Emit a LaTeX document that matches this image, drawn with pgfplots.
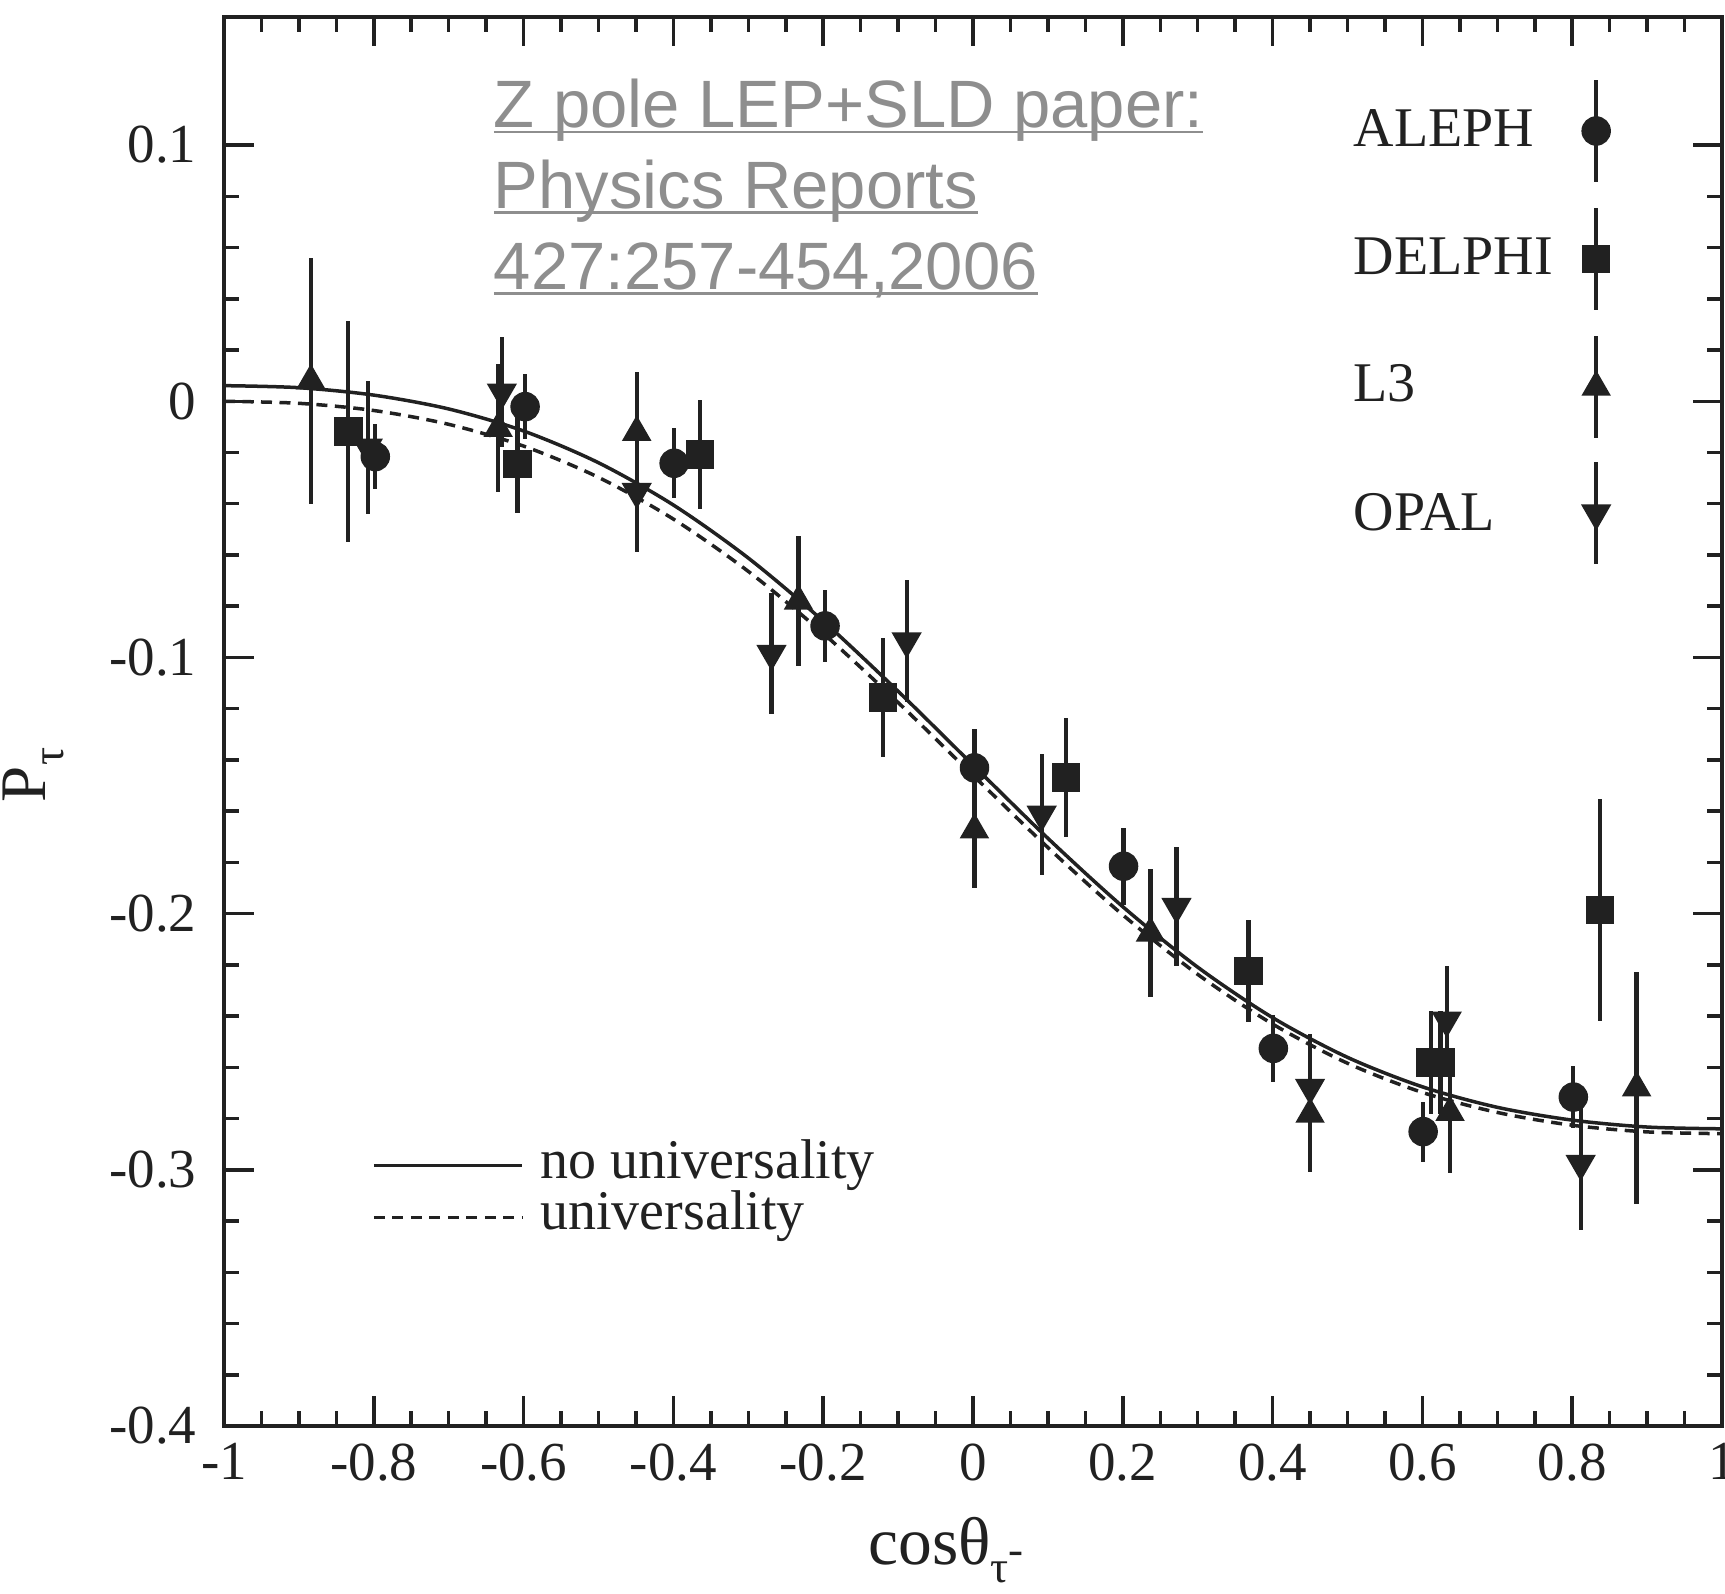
\documentclass[border=0pt]{standalone}
\usepackage{fontspec}
\setmainfont{Liberation Serif}
\newfontfamily\annfont{Liberation Sans}
\usepackage{pgfplots}
\usepackage{pgfplotstable}
\pgfplotsset{compat=1.18}
\definecolor{ink}{RGB}{33,33,33}
\definecolor{anngray}{RGB}{142,142,142}
\newcommand\ul[1]{\setbox0=\hbox{#1}\rlap{\rule[-1.1pt]{\wd0}{0.55pt}}\box0}

\pgfplotstableread{
x y e
-0.798 -0.0216 0.0127
-0.598 -0.0021 0.0126
-0.399 -0.0242 0.0136
-0.1975 -0.0877 0.0142
0.002 -0.1431 0.0151
0.201 -0.1815 0.0150
0.401 -0.2526 0.0130
0.601 -0.2851 0.0117
0.8015 -0.2716 0.0120
}\dataALEPH
\pgfplotstableread{
x y e
-0.834 -0.0118 0.0430
-0.608 -0.0245 0.0190
-0.3645 -0.0207 0.0213
-0.1203 -0.1157 0.0232
0.1244 -0.1468 0.0232
0.3677 -0.2224 0.0200
0.611 -0.2581 0.0200
0.624 -0.2581 0.0200
0.837 -0.1986 0.0432
}\dataDELPHI
\pgfplotstableread{
x y e
-0.884 0.0080 0.0480
-0.634 -0.0106 0.0250
-0.449 -0.0121 0.0234
-0.233 -0.0780 0.0253
0.0019 -0.1673 0.0228
0.2369 -0.2076 0.0250
0.450 -0.2783 0.0226
0.6369 -0.2776 0.0238
0.886 -0.2680 0.0453
}\dataLTHREE
\pgfplotstableread{
x y e
-0.808 -0.0180 0.0260
-0.629 0.0035 0.0215
-0.449 -0.0353 0.0235
-0.269 -0.0985 0.0236
-0.0886 -0.0936 0.0237
0.0917 -0.1613 0.0237
0.2717 -0.1973 0.0232
0.450 -0.2679 0.0210
0.6324 -0.2417 0.0213
0.8113 -0.2976 0.0260
}\dataOPAL

\pgfplotsset{
  expt/.style={only marks, ink, mark options={ink, fill=ink, line width=0.3pt},
    error bars/y dir=both, error bars/y explicit, error bars/error mark=none,
    error bars/error bar style={line width=0.85pt, ink}},
}

\begin{document}
\begin{tikzpicture}
\begin{axis}[
  scale only axis, width=299.6pt, height=281.8pt,
  xmin=-1, xmax=1, ymin=-0.4, ymax=0.15,
  axis line style={ink, line width=0.9pt},
  xtick={-1,-0.8,-0.6,-0.4,-0.2,0,0.2,0.4,0.6,0.8,1},
  xticklabels={-1,-0.8,-0.6,-0.4,-0.2,0,0.2,0.4,0.6,0.8,1},
  ytick={-0.4,-0.3,-0.2,-0.1,0,0.1},
  yticklabels={-0.4,-0.3,-0.2,-0.1,0,0.1},
  minor x tick num=3, minor y tick num=4,
  tick align=inside,
  major tick length=5.9pt, minor tick length=3pt,
  every tick/.style={ink, line width=0.7pt},
  tick label style={font=\fontsize{11}{13}\selectfont, text=ink},
  yticklabel style={xshift=-2pt},
  xlabel={cosθ\raisebox{-0.6ex}{\fontsize{9}{10}\selectfont τ\raisebox{0.9ex}{-}}},
  xlabel style={at={(rel axis cs:0.482,-0.098)}, anchor=base, font=\fontsize{13.5}{15}\selectfont, text=ink},
  ylabel={P\raisebox{-0.6ex}{\fontsize{9}{10}\selectfont τ}},
  ylabel style={at={(rel axis cs:-0.1275,0.462)}, anchor=center, font=\fontsize{13}{15}\selectfont, text=ink},
]
% curves
\addplot[ink, line width=0.7pt, smooth] coordinates {
(-1,0.0061) (-0.9,0.0053) (-0.8,0.0024) (-0.7,-0.0030) (-0.6,-0.0116) (-0.5,-0.0240) (-0.4,-0.0405) (-0.3,-0.0612) (-0.2,-0.0858) (-0.1,-0.1132) (0,-0.1420) (0.1,-0.1706) (0.2,-0.1973) (0.3,-0.2209) (0.4,-0.2406) (0.5,-0.2561) (0.6,-0.2676) (0.7,-0.2756) (0.8,-0.2806) (0.9,-0.2833) (1,-0.2840)};
\addplot[ink, line width=0.7pt, smooth, dash pattern=on 2.2pt off 1.5pt] coordinates {
(-1,0) (-0.9,-0.0008) (-0.8,-0.0036) (-0.7,-0.0090) (-0.6,-0.0175) (-0.5,-0.0297) (-0.4,-0.0460) (-0.3,-0.0664) (-0.2,-0.0906) (-0.1,-0.1176) (0,-0.1460) (0.1,-0.1742) (0.2,-0.2005) (0.3,-0.2237) (0.4,-0.2431) (0.5,-0.2584) (0.6,-0.2698) (0.7,-0.2776) (0.8,-0.2826) (0.9,-0.2852) (1,-0.2859)};
% data
\addplot[expt, mark=triangle*, mark size=3.1pt] table[x=x, y=y, y error=e] {\dataLTHREE};
\addplot[expt, mark=triangle*, mark size=3.1pt, mark options={rotate=180}] table[x=x, y=y, y error=e] {\dataOPAL};
\addplot[expt, mark=square*, mark size=2.7pt] table[x=x, y=y, y error=e] {\dataDELPHI};
\addplot[expt, mark=*, mark size=2.8pt] table[x=x, y=y, y error=e] {\dataALEPH};
% experiment key
\addplot[expt, mark=*, mark size=2.8pt] coordinates {(0.832,0.1055) +- (0,0.020)};
\addplot[expt, mark=square*, mark size=2.7pt] coordinates {(0.832,0.0555) +- (0,0.020)};
\addplot[expt, mark=triangle*, mark size=3.1pt] coordinates {(0.832,0.0055) +- (0,0.020)};
\addplot[expt, mark=triangle*, mark size=3.1pt, mark options={rotate=180}] coordinates {(0.832,-0.0437) +- (0,0.020)};
\node[anchor=west, inner sep=0pt, text=ink, font=\fontsize{11.2}{13}\selectfont] at (axis cs:0.507,0.1067) {ALEPH};
\node[anchor=west, inner sep=0pt, text=ink, font=\fontsize{11.2}{13}\selectfont] at (axis cs:0.507,0.0567) {DELPHI};
\node[anchor=west, inner sep=0pt, text=ink, font=\fontsize{11.2}{13}\selectfont] at (axis cs:0.507,0.0070) {L3};
\node[anchor=west, inner sep=0pt, text=ink, font=\fontsize{11.2}{13}\selectfont] at (axis cs:0.507,-0.0434) {OPAL};
% curve key
\addplot[ink, line width=0.7pt] coordinates {(-0.800,-0.2983) (-0.6015,-0.2983)};
\addplot[ink, line width=0.7pt, dash pattern=on 2.2pt off 1.5pt] coordinates {(-0.800,-0.3186) (-0.6015,-0.3186)};
\node[anchor=base west, inner sep=0pt, text=ink, font=\fontsize{11.2}{13}\selectfont] at (axis cs:-0.579,-0.3034) {no universality};
\node[anchor=base west, inner sep=0pt, text=ink, font=\fontsize{11.2}{13}\selectfont] at (axis cs:-0.579,-0.3233) {universality};
% annotation
\node[anchor=base west, inner sep=0pt, text=anngray, font=\annfont\fontsize{13.4}{16}\selectfont] at (axis cs:-0.641,0.1067) {\ul{Z pole LEP+SLD paper:}};
\node[anchor=base west, inner sep=0pt, text=anngray, font=\annfont\fontsize{13.4}{16}\selectfont] at (axis cs:-0.641,0.0753) {\ul{Physics Reports}};
\node[anchor=base west, inner sep=0pt, text=anngray, font=\annfont\fontsize{13.4}{16}\selectfont] at (axis cs:-0.641,0.0438) {\ul{427:257-454,2006}};
\end{axis}
\pgfresetboundingbox
\useasboundingbox ([xshift=-44.8pt,yshift=-33.4pt]current axis.south west) rectangle ([xshift=0.6pt,yshift=3.4pt]current axis.north east);
\end{tikzpicture}
\end{document}
